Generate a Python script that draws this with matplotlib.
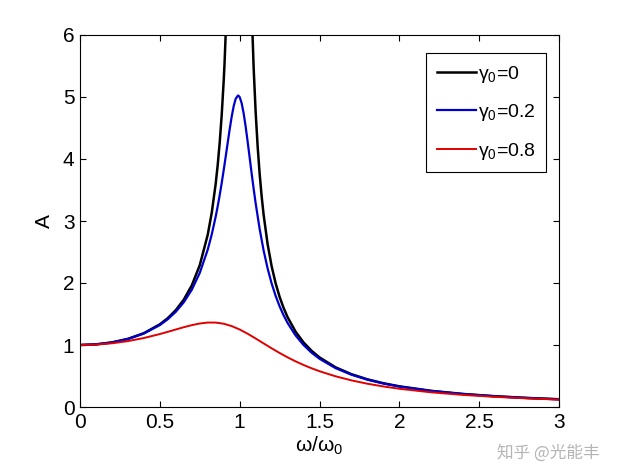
import numpy as np
import matplotlib
matplotlib.use("Agg")
import matplotlib.pyplot as plt

plt.rcParams['font.family'] = ['Liberation Sans', 'DejaVu Sans']
plt.rcParams['mathtext.fontset'] = 'custom'
plt.rcParams['mathtext.rm'] = 'Liberation Sans'
plt.rcParams['mathtext.it'] = 'Liberation Sans'

# gamma0 = 0 (two branches around the resonance)
x0_left = [0.0, 0.1, 0.2, 0.3, 0.4, 0.5, 0.55, 0.6, 0.65, 0.7, 0.75, 0.8, 0.825, 0.85,
           0.8625, 0.875, 0.8875, 0.9, 0.905, 0.92]
a0_left = [1.0, 1.0101, 1.0417, 1.0989, 1.1905, 1.3333, 1.4337, 1.5625, 1.7316, 1.9608,
           2.2857, 2.7778, 3.1311, 3.6036, 3.9048, 4.2667, 4.7094, 5.2632, 5.5256, 6.51]
x0_right = [1.075, 1.0875, 1.1, 1.1125, 1.125, 1.1375, 1.15, 1.175, 1.2, 1.225, 1.25,
            1.275, 1.3, 1.35, 1.4, 1.45, 1.5, 1.6, 1.7, 1.8, 1.9, 2.0, 2.2, 2.4, 2.6,
            2.8, 3.0]
a0_right = [6.4257, 5.4748, 4.7619, 4.2077, 3.7647, 3.4025, 3.1008, 2.6273, 2.2727,
            1.9975, 1.7778, 1.5984, 1.4493, 1.2158, 1.0417, 0.907, 0.8, 0.641, 0.5291,
            0.4464, 0.3831, 0.3333, 0.2604, 0.2101, 0.1736, 0.1462, 0.125]

# gamma0 = 0.2
x02 = [0.0, 0.1, 0.2, 0.3, 0.4, 0.5, 0.55, 0.6, 0.65, 0.7, 0.75, 0.8, 0.825, 0.85,
       0.8625, 0.875, 0.8875, 0.9, 0.9125, 0.925, 0.9375, 0.95, 0.9625, 0.975, 0.99,
       1.0, 1.0125, 1.025, 1.0375, 1.05, 1.0625, 1.075, 1.0875, 1.1, 1.125, 1.15,
       1.175, 1.2, 1.225, 1.25, 1.275, 1.3, 1.35, 1.4, 1.45, 1.5, 1.6, 1.7, 1.8, 1.9,
       2.0, 2.2, 2.4, 2.6, 2.8, 3.0]
a02 = [1.0, 1.0099, 1.0408, 1.0965, 1.1851, 1.3216, 1.4162, 1.5357, 1.6893, 1.8908,
       2.1622, 2.5384, 2.7818, 3.0728, 3.2386, 3.4188, 3.6133, 3.8208, 4.0386, 4.2613,
       4.4802, 4.6826, 4.8523, 4.9713, 5.0252, 5.0, 4.9006, 4.7357, 4.5224, 4.2794,
       4.0235, 3.7677, 3.5209, 3.288, 2.8727, 2.5245, 2.2355, 1.9952, 1.7942, 1.6246,
       1.4802, 1.3562, 1.1552, 1.0, 0.8772, 0.7779, 0.6279, 0.5207, 0.4408, 0.3791,
       0.3304, 0.2587, 0.209, 0.1729, 0.1457, 0.1247]

# gamma0 = 0.8
x08 = [0.0, 0.1, 0.2, 0.3, 0.4, 0.5, 0.55, 0.6, 0.65, 0.7, 0.75, 0.8, 0.85, 0.9, 0.95,
       1.0, 1.05, 1.1, 1.15, 1.2, 1.25, 1.3, 1.35, 1.4, 1.45, 1.5, 1.6, 1.7, 1.8, 1.9,
       2.0, 2.2, 2.4, 2.6, 2.8, 3.0]
a08 = [1.0, 1.0068, 1.0275, 1.0626, 1.1125, 1.1765, 1.2126, 1.25, 1.2868, 1.3203,
       1.3467, 1.3618, 1.3616, 1.3429, 1.3051, 1.25, 1.1817, 1.1053, 1.0258, 0.9469,
       0.8716, 0.8012, 0.7366, 0.6779, 0.6249, 0.5771, 0.4956, 0.4295, 0.3755, 0.3311,
       0.2941, 0.2367, 0.1948, 0.1633, 0.1389, 0.1197]

labels = [r'$\mathrm{\gamma_0}$=0', r'$\mathrm{\gamma_0}$=0.2', r'$\mathrm{\gamma_0}$=0.8']
xticks = [0, 0.5, 1, 1.5, 2, 2.5, 3]
xticklabels = ['0', '0.5', '1', '1.5', '2', '2.5', '3']
yticks = [0, 1, 2, 3, 4, 5, 6]

fig = plt.figure(figsize=(6.18, 4.69), dpi=100)
ax = fig.add_axes([80/618, 1-407/469, 479/618, 372/469])

l0, = ax.plot(x0_left, a0_left, color='black', lw=1.8, label=labels[0])
ax.plot(x0_right, a0_right, color='black', lw=1.8)
l1, = ax.plot(x02, a02, color='#0000cc', lw=1.6, label=labels[1])
l2, = ax.plot(x08, a08, color='#e00000', lw=1.4, label=labels[2])

ax.set_xlim(0, 3)
ax.set_ylim(0, 6)
ax.set_xticks(xticks)
ax.set_xticklabels(xticklabels)
ax.set_yticks(yticks)
ax.tick_params(direction='in', top=True, right=True, length=4.5, width=0.8,
               labelsize=15, pad=4)
for s in ax.spines.values():
    s.set_linewidth(0.8)

ax.set_xlabel(r'$\mathrm{\omega/\omega_0}$', fontsize=15, labelpad=2)
ax.set_ylabel('A', fontsize=15, labelpad=6)

leg = ax.legend(handles=[l0, l1, l2], loc='upper right',
                bbox_to_anchor=(546/618, 1-53/469), bbox_transform=fig.transFigure,
                borderaxespad=0, fancybox=False, edgecolor='black', framealpha=1,
                fontsize=14, handlelength=2.0, handletextpad=0.1, labelspacing=0.9,
                borderpad=0.55)
leg.get_frame().set_linewidth(0.8)

fig.text(548/618, 1-453/469, '知乎 @光能丰', family=['Noto Sans CJK SC', 'DejaVu Sans'],
         fontsize=12, color='#b4b4b4', ha='center', va='center')

fig.savefig('out.png', dpi=100)
